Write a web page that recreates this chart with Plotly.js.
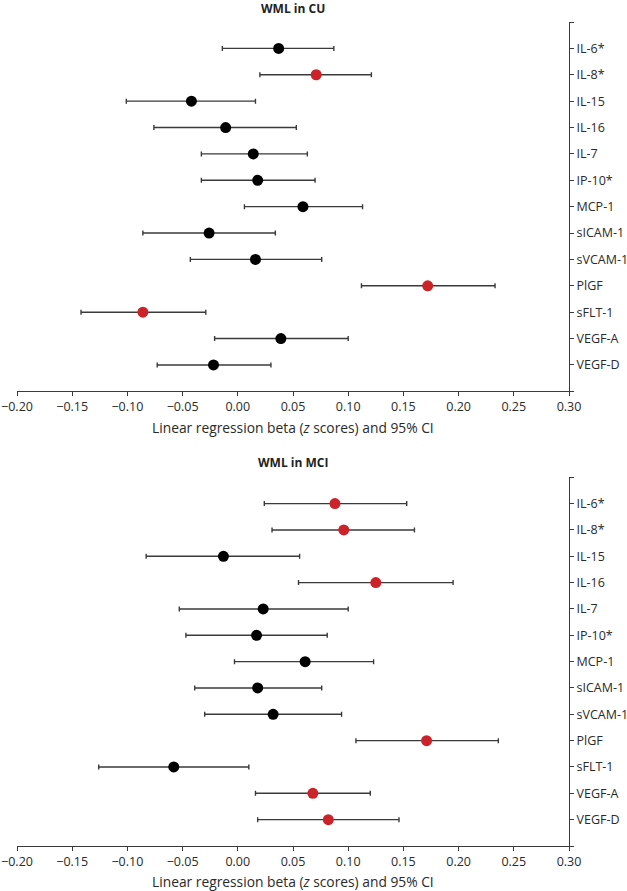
<!DOCTYPE html>
<html>
<head>
<meta charset="utf-8">
<script src="https://cdn.plot.ly/plotly-3.0.1.min.js"></script>
<style>
  body { margin: 0; background: #fff; }
  #chart { width: 627px; height: 891px; }
</style>
</head>
<body>
<div id="chart"></div>
<script>
// markers, top to bottom
const markers = ["IL-6*", "IL-8*", "IL-15", "IL-16", "IL-7", "IP-10*", "MCP-1",
  "sICAM-1", "sVCAM-1", "PlGF", "sFLT-1", "VEGF-A", "VEGF-D"];

// WML in CU
const betaCU  = [0.037, 0.071, -0.042, -0.011, 0.014, 0.018, 0.059, -0.026, 0.016, 0.172, -0.086, 0.039, -0.022];
const lowCU   = [-0.014, 0.020, -0.101, -0.076, -0.033, -0.033, 0.006, -0.086, -0.043, 0.112, -0.142, -0.021, -0.073];
const highCU  = [0.087, 0.121, 0.016, 0.053, 0.063, 0.070, 0.113, 0.034, 0.076, 0.233, -0.029, 0.100, 0.030];
const sigCU   = [0, 1, 0, 0, 0, 0, 0, 0, 0, 1, 1, 0, 0];

// WML in MCI
const betaMCI = [0.088, 0.096, -0.013, 0.125, 0.023, 0.017, 0.061, 0.018, 0.032, 0.171, -0.058, 0.068, 0.082];
const lowMCI  = [0.024, 0.031, -0.083, 0.055, -0.053, -0.047, -0.003, -0.039, -0.030, 0.107, -0.126, 0.016, 0.018];
const highMCI = [0.153, 0.160, 0.056, 0.195, 0.100, 0.081, 0.123, 0.076, 0.094, 0.236, 0.010, 0.120, 0.146];
const sigMCI  = [1, 1, 0, 1, 0, 0, 0, 0, 0, 1, 0, 1, 1];

const xTicks = [-0.20, -0.15, -0.10, -0.05, 0.00, 0.05, 0.10, 0.15, 0.20, 0.25, 0.30];

const RED = "#cc2229";
const INK = "#3a3a3a";
const FONT = "Open Sans, Noto Sans, sans-serif";

const rows = markers.map((m, i) => i + 1);

function forest(beta, low, high, sig, yaxis) {
  return {
    type: "scatter",
    mode: "markers",
    x: beta,
    y: rows,
    yaxis: yaxis,
    xaxis: yaxis === "y" ? "x" : "x2",
    marker: { size: 11, color: sig.map(s => s ? RED : "#000000") },
    error_x: {
      type: "data",
      symmetric: false,
      array: high.map((h, i) => h - beta[i]),
      arrayminus: low.map((l, i) => beta[i] - l),
      color: INK,
      thickness: 1.4,
      width: 2.5
    },
    hoverinfo: "x+y",
    showlegend: false
  };
}

const yTickVals = [0].concat(rows, [markers.length + 1]);
const yTickText = [""].concat(markers, [""]);

function yAxis(domain, anchor) {
  return {
    domain: domain,
    anchor: anchor,
    side: "right",
    range: [markers.length + 1, 0],
    tickvals: yTickVals,
    ticktext: yTickText,
    ticks: "outside",
    ticklen: 4,
    tickcolor: INK,
    showline: true,
    linecolor: INK,
    linewidth: 1,
    showgrid: false,
    zeroline: false,
    tickfont: { family: FONT, size: 12.5, color: "#2a2a2a" }
  };
}

function xAxis(anchor) {
  return {
    anchor: anchor,
    range: [-0.20, 0.30],
    tickvals: xTicks,
    ticktext: xTicks.map(v => (v < 0 ? "\u22120" : "0") + Math.abs(v).toFixed(2).slice(1)),
    ticks: "outside",
    ticklen: 4,
    tickcolor: INK,
    showline: true,
    linecolor: INK,
    linewidth: 1,
    showgrid: false,
    zeroline: false,
    tickfont: { family: FONT, size: 12.5, color: "#2a2a2a" }
  };
}

const axisTitle = "Linear regression beta (<i>z</i> scores) and 95% CI";
const titleFont = { family: FONT, size: 12, weight: "bold", color: "#222" };
const axisTitleFont = { family: FONT, size: 13.8, color: "#2a2a2a" };

const layout = {
  width: 627,
  height: 891,
  margin: { l: 17, r: 58, t: 22, b: 45 },
  paper_bgcolor: "#fff",
  plot_bgcolor: "#fff",
  font: { family: FONT, color: "#333" },
  xaxis: xAxis("y"),
  yaxis: yAxis([0.5518, 1], "x"),
  xaxis2: xAxis("y2"),
  yaxis2: yAxis([0, 0.4475], "x2"),
  annotations: [
    { text: "WML in CU", xref: "paper", yref: "paper", x: 0.5, y: 1,
      yanchor: "middle", yshift: 14, showarrow: false, font: titleFont },
    { text: "WML in MCI", xref: "paper", yref: "paper", x: 0.5, y: 0.4657,
      yanchor: "middle", showarrow: false, font: titleFont },
    { text: axisTitle, xref: "paper", yref: "paper", x: 0.5, y: 0.508,
      yanchor: "middle", showarrow: false, font: axisTitleFont },
    { text: axisTitle, xref: "paper", yref: "paper", x: 0.5, y: -0.0428,
      yanchor: "middle", showarrow: false, font: axisTitleFont }
  ]
};

Plotly.newPlot("chart", [
  forest(betaCU, lowCU, highCU, sigCU, "y"),
  forest(betaMCI, lowMCI, highMCI, sigMCI, "y2")
], layout, { displayModeBar: false, staticPlot: true });
</script>
</body>
</html>
